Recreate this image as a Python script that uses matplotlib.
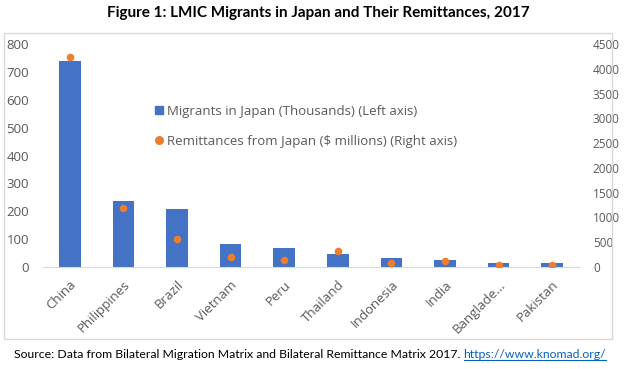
import matplotlib
matplotlib.use("Agg")
import matplotlib.pyplot as plt
from matplotlib.patches import Rectangle
from matplotlib.lines import Line2D

# Chart data
countries = ["China", "Philippines", "Brazil", "Vietnam", "Peru", "Thailand",
             "Indonesia", "India", "Banglade...", "Pakistan"]
migrants_k = [738, 236, 208, 82, 68, 47, 32, 25, 14, 14]
remit_musd = [4240, 1190, 560, 200, 150, 320, 80, 120, 40, 50]

left_ticks = [0, 100, 200, 300, 400, 500, 600, 700, 800]
right_ticks = [0, 500, 1000, 1500, 2000, 2500, 3000, 3500, 4000, 4500]

TITLE = "Figure 1: LMIC Migrants in Japan and Their Remittances, 2017"
SOURCE = "Source: Data from Bilateral Migration Matrix and Bilateral Remittance Matrix 2017. "
URL = "https://www.knomad.org/"

BAR_COLOR = "#4472C4"
DOT_COLOR = "#ED7D31"
TEXT_COLOR = "#595959"
W, H = 637, 369

fig = plt.figure(figsize=(W / 100, H / 100), dpi=100)
fig.patch.set_facecolor("white")

# chart frame
fig.patches.append(Rectangle((4 / W, 1 - 339 / H), 608 / W, 306 / H,
                             transform=fig.transFigure, fill=False,
                             edgecolor="#D9D9D9", linewidth=1.0))

ax = fig.add_axes([43 / W, 1 - 267 / H, 536 / W, 223 / H])
x = list(range(len(countries)))
ax.bar(x, migrants_k, width=0.4, color=BAR_COLOR, zorder=2)
ax.set_xlim(-0.5, len(countries) - 0.5)
ax.set_ylim(0, 800)
ax.set_yticks(left_ticks)
ax.set_xticks(x)
ax.set_xticklabels(countries, rotation=45, ha="right", rotation_mode="anchor")
for s in ["top", "right", "left"]:
    ax.spines[s].set_visible(False)
ax.spines["bottom"].set_color("#D9D9D9")
ax.tick_params(axis="both", length=0, colors=TEXT_COLOR, labelsize=9.5)
ax.tick_params(axis="x", pad=8)
ax.tick_params(axis="y", pad=10)

ax2 = ax.twinx()
ax2.scatter(x, remit_musd, s=30, color=DOT_COLOR, zorder=3, linewidths=0)
ax2.set_ylim(0, 4500)
ax2.set_yticks(right_ticks)
for s in ["top", "right", "left", "bottom"]:
    ax2.spines[s].set_visible(False)
ax2.tick_params(axis="y", length=0, colors=TEXT_COLOR, labelsize=8.5, pad=10)

for a in (ax, ax2):
    for lbl in a.get_xticklabels() + a.get_yticklabels():
        lbl.set_fontfamily("Open Sans")

# legend
handles = [
    Line2D([], [], marker="s", linestyle="none", color=BAR_COLOR, markersize=5.5),
    Line2D([], [], marker="o", linestyle="none", color=DOT_COLOR, markersize=5.5),
]
labels = ["Migrants in Japan (Thousands) (Left axis)",
          "Remittances from Japan ($ millions) (Right axis)"]
fig.legend(handles, labels, loc="upper left", bbox_to_anchor=(143 / W, 1 - 93 / H),
           frameon=False, handlelength=0.6, handletextpad=0.3, labelspacing=1.3,
           prop={"family": "Open Sans", "size": 9.5}, labelcolor=TEXT_COLOR)

fig.text(0.5, 1 - 13 / H, TITLE, ha="center", va="center",
         fontsize=11, fontweight="bold", family="Lato", color="black")

src = fig.text(14 / W, 1 - 355 / H, SOURCE, ha="left", va="center",
               fontsize=8.8, family="Lato", color="black")
fig.canvas.draw()
renderer = fig.canvas.get_renderer()
bb = src.get_window_extent(renderer)
url_x = bb.x1 / W
url = fig.text(url_x, 1 - 355 / H, URL, ha="left", va="center",
               fontsize=8.8, family="Lato", color="#0563C1")
ub = url.get_window_extent(renderer)
fig.add_artist(Line2D([ub.x0 / W, ub.x1 / W], [(ub.y0 + 1) / H, (ub.y0 + 1) / H],
                      transform=fig.transFigure, color="#0563C1", linewidth=0.8))

fig.savefig("out.png", dpi=100)
